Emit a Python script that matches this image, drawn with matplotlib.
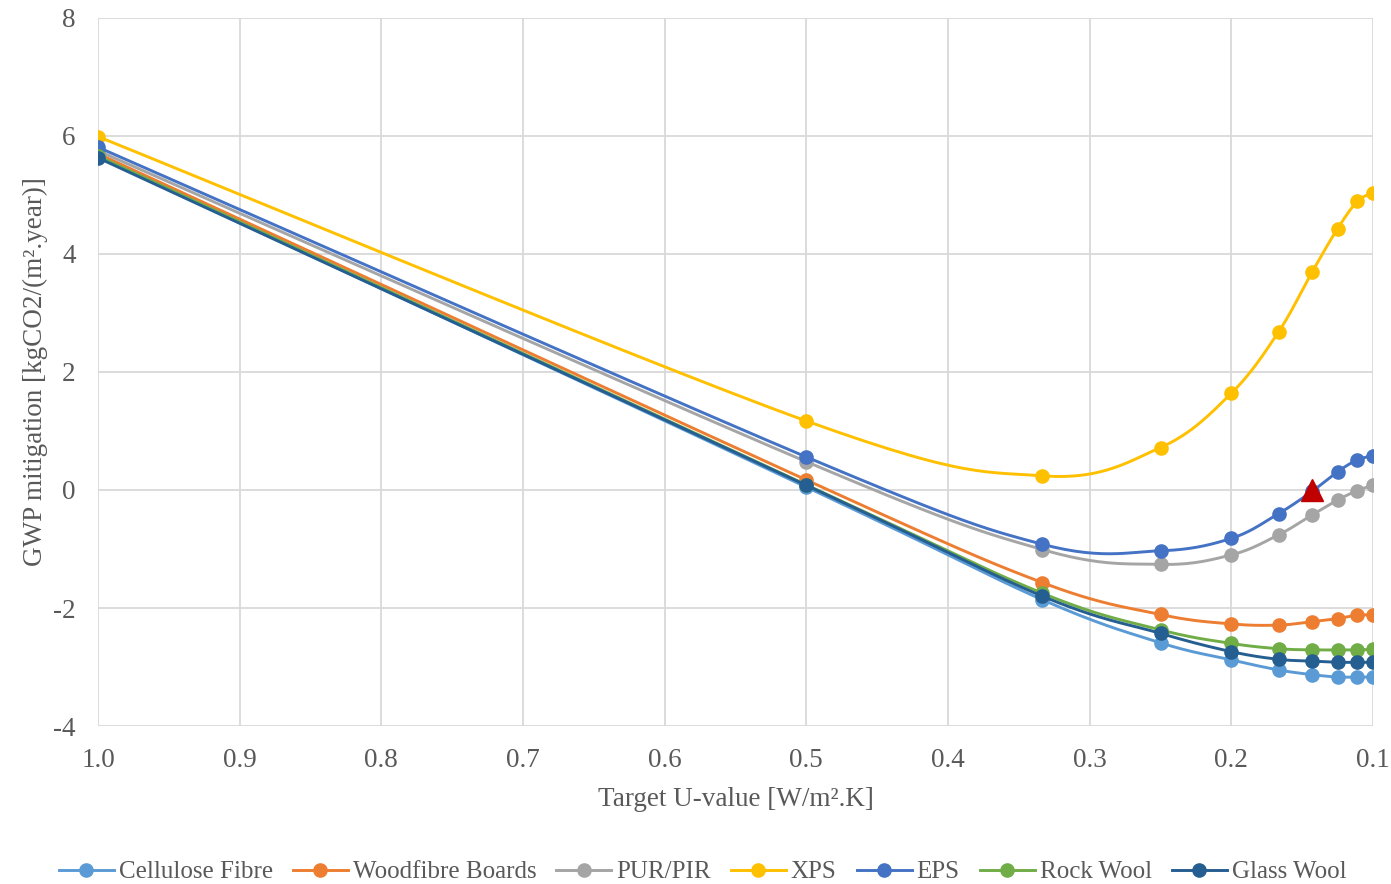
import numpy as np
import matplotlib
matplotlib.use("Agg")
import matplotlib.pyplot as plt

plt.rcParams['font.family'] = ['Liberation Serif', 'DejaVu Serif']
plt.rcParams['axes.unicode_minus'] = False

# target U-values (1/n for n = 1..10)
u_values = [1.0, 0.5, 1/3, 0.25, 0.2, 1/6, 1/7, 0.125, 1/9, 0.1]

names = ["Cellulose Fibre", "Woodfibre Boards", "PUR/PIR", "XPS", "EPS", "Rock Wool", "Glass Wool"]
colors = ["#5B9BD5", "#ED7D31", "#A5A5A5", "#FFC000", "#4472C4", "#70AD47", "#255E91"]

cellulose = [5.65, 0.05, -1.86, -2.59, -2.88, -3.05, -3.13, -3.17, -3.17, -3.17]
woodfibre = [5.70, 0.17, -1.57, -2.11, -2.27, -2.29, -2.23, -2.18, -2.12, -2.12]
pur_pir = [5.75, 0.48, -1.01, -1.26, -1.10, -0.76, -0.42, -0.17, -0.01, 0.08]
xps = [5.99, 1.17, 0.24, 0.72, 1.64, 2.68, 3.70, 4.43, 4.89, 5.04]
eps = [5.81, 0.56, -0.92, -1.03, -0.82, -0.40, -0.02, 0.31, 0.51, 0.58]
rock_wool = [5.66, 0.09, -1.75, -2.37, -2.60, -2.69, -2.71, -2.71, -2.71, -2.70]
glass_wool = [5.63, 0.08, -1.80, -2.43, -2.74, -2.87, -2.90, -2.92, -2.92, -2.92]
series = [cellulose, woodfibre, pur_pir, xps, eps, rock_wool, glass_wool]

# highlighted point (EPS crossing zero)
mark_u = 1/7
mark_gwp = 0.0


def smooth(x, y, n=30):
    """Excel-like smoothed line (uniform Catmull-Rom through the points)"""
    p = np.column_stack([x, y])
    p = np.vstack([p[0], p, p[-1]])
    out = []
    t = np.linspace(0, 1, n)[:, None]
    for i in range(1, len(p) - 2):
        p0, p1, p2, p3 = p[i - 1], p[i], p[i + 1], p[i + 2]
        c1 = p1 + (p2 - p0) / 6
        c2 = p2 - (p3 - p1) / 6
        seg = ((1 - t) ** 3) * p1 + 3 * ((1 - t) ** 2) * t * c1 + 3 * (1 - t) * t ** 2 * c2 + t ** 3 * p2
        out.append(seg if i == 1 else seg[1:])
    out = np.vstack(out)
    return out[:, 0], out[:, 1]


fig = plt.figure(figsize=(13.91, 8.84), dpi=100)
ax = fig.add_axes([98 / 1391, 1 - 726 / 884, 1275 / 1391, 708 / 884])

for name, vals, c in zip(names, series, colors):
    sx, sy = smooth(u_values, vals)
    ax.plot(sx, sy, color=c, lw=2.1, solid_capstyle='round')
    ax.plot(u_values, vals, 'o', color=c, ms=9.5, mec=c, ls='none')
    ax.plot([], [], '-o', color=c, lw=2.1, ms=9.5, label=name)

ax.plot(mark_u, mark_gwp, '^', color='#C00000', ms=16, zorder=10)

ax.set_xlim(1.0, 0.1)
ax.set_ylim(-4, 8)
ax.set_xticks(np.arange(1.0, 0.05, -0.1))
ax.set_xticklabels(["%.1f" % v for v in np.arange(1.0, 0.05, -0.1)])
ax.set_yticks(np.arange(-4, 9, 2))
ax.grid(True, color="#D9D9D9", lw=1.3)
ax.set_axisbelow(True)
for s in ax.spines.values():
    s.set_visible(False)
ax.tick_params(axis='x', length=0, labelsize=19.5, colors="#595959", pad=16)
ax.tick_params(axis='y', length=0, labelsize=19.5, colors="#595959", pad=16)

ax.set_xlabel("Target U-value [W/m².K]", fontsize=19.5, color="#595959", labelpad=10)
ax.set_ylabel("GWP mitigation [kgCO2/(m².year)]", fontsize=19.5, color="#595959", labelpad=4)

leg = fig.legend(loc='center', bbox_to_anchor=(0.505, 1 - 872 / 884), ncol=7, frameon=False,
                 fontsize=18, handlelength=2.2, handletextpad=0.2, columnspacing=0.8)
for t in leg.get_texts():
    t.set_color("#595959")

plt.savefig("out.png", dpi=100)
plt.close()
